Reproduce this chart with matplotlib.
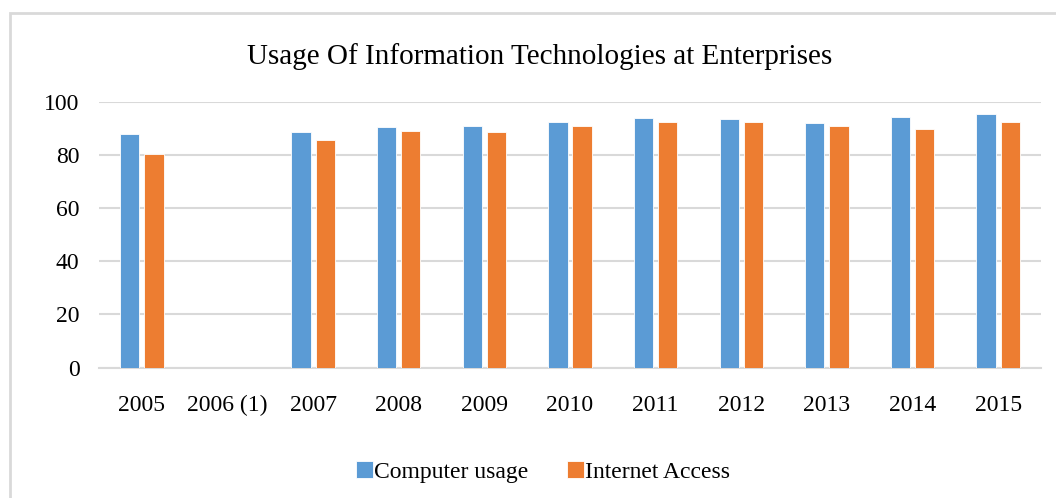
import numpy as np
import matplotlib.pyplot as plt
from matplotlib.patches import Rectangle

years = ['2005', '2006 (1)', '2007', '2008', '2009', '2010',
         '2011', '2012', '2013', '2014', '2015']
computer_usage = [87.8, np.nan, 88.6, 90.5, 90.7, 92.2, 93.9, 93.5, 92.0, 94.4, 95.3]
internet_access = [80.4, np.nan, 85.5, 89.1, 88.7, 90.9, 92.4, 92.5, 90.9, 89.8, 92.5]

BLUE = '#5b9bd5'
ORANGE = '#ed7d31'
GRID = '#d9d9d9'

plt.rcParams['font.family'] = ['Liberation Serif', 'DejaVu Serif']

fig = plt.figure(figsize=(10.56, 4.98), dpi=100)
# outer chart frame
fig.patches.append(Rectangle((10 / 1056, -0.05), 1.1, 1 - 13 / 498 + 0.05,
                             transform=fig.transFigure, fill=False,
                             edgecolor=GRID, linewidth=2))

ax = fig.add_axes([99 / 1056, 1 - 367.5 / 498, 942 / 1056, (367.5 - 101.7) / 498])
x = np.arange(len(years))
w = 0.225
off = (w + 0.058) / 2
ax.bar(x - off, computer_usage, w, color=BLUE, edgecolor='white', linewidth=0.6,
       label='Computer usage', zorder=3)
ax.bar(x + off, internet_access, w, color=ORANGE, edgecolor='white', linewidth=0.6,
       label='Internet Access', zorder=3)

ax.set_xlim(-0.5, len(years) - 0.5)
ax.set_ylim(0, 100)
ax.set_yticks(range(0, 101, 20))
ax.set_xticks(x)
ax.set_xticklabels(years)
ax.grid(axis='y', color=GRID, linewidth=1.5, zorder=0)
ax.set_axisbelow(True)
for s in ['left', 'right', 'top']:
    ax.spines[s].set_visible(False)
ax.spines['bottom'].set_color(GRID)
ax.spines['bottom'].set_linewidth(1.5)
ax.tick_params(axis='both', length=0, labelsize=17, colors='black')
ax.tick_params(axis='y', pad=14)
ax.tick_params(axis='x', pad=20)

fig.text(540 / 1056, 1 - 57 / 498, 'Usage Of Information Technologies at Enterprises',
         ha='center', va='center', fontsize=21)

fig.legend(loc='center', bbox_to_anchor=(543 / 1056, 1 - 472 / 498), ncol=2,
           frameon=False, fontsize=17, handlelength=0.75, handleheight=0.75,
           handletextpad=0.05, columnspacing=1.6)

fig.savefig('out.png', dpi=100)
